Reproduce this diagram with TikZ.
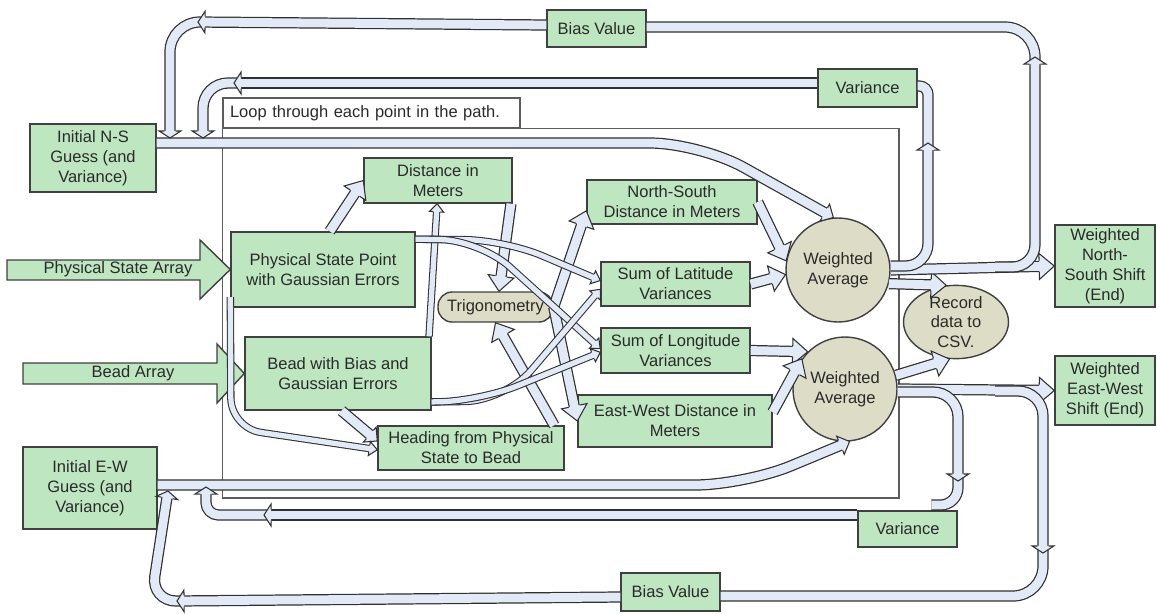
\documentclass[tikz,border=0pt]{standalone}
\usepackage{fontspec}
\setmainfont{Liberation Sans}
\usetikzlibrary{shapes.geometric,decorations.markings,backgrounds}
\definecolor{boxgreen}{HTML}{BEE6C0}
\definecolor{tanfill}{HTML}{DDDCC6}
\definecolor{pipefill}{HTML}{E3EAF7}
\definecolor{pipeedge}{HTML}{303030}
\definecolor{boxline}{HTML}{404040}
\definecolor{framegray}{HTML}{5C5C5C}
\definecolor{ink}{HTML}{2A2A2A}

% block arrow head, drawn in the frame of the path end
\newcommand\tiphead[3]{%
  \fill[pipefill, sharp corners, shorten >=0pt, shorten <=0pt] (0pt,0pt) -- (-#1,#2) -- (-#1,-#2) -- cycle;
  \draw[pipeedge, line width=0.6pt, line join=miter, sharp corners, shorten >=0pt, shorten <=0pt]
    (-#1,#3) -- (-#1,#2) -- (0pt,0pt) -- (-#1,-#2) -- (-#1,-#3);}

\tikzset{
  box/.style={draw=boxline, fill=boxgreen, line width=0.8pt, text=ink, align=center,
    inner sep=1pt, font=\fontsize{9.4}{11.3}\selectfont},
  tanbox/.style={box, fill=tanfill},
  bigarrow/.style={draw=boxline, fill=boxgreen, line width=0.8pt},
  arrowtext/.style={text=ink, font=\fontsize{9.4}{11.3}\selectfont},
  pipe/.style={draw=pipefill, line width=5pt, preaction={draw=pipeedge, line width=6.4pt}},
  thinpipe/.style={draw=pipefill, line width=3pt, preaction={draw=pipeedge, line width=4.2pt}},
  tip/.style n args={4}{shorten >=#4, postaction={decorate, decoration={markings,
    mark=at position 1 with {\tiphead{#1}{#2}{#3}}}}},
  bighead/.style={tip={8.6pt}{7.4pt}{3.2pt}{8pt}},
  medhead/.style={tip={5.6pt}{5.6pt}{3.2pt}{5pt}},
  smallhead/.style={tip={4pt}{6.2pt}{3.2pt}{3.4pt}},
  thinhead/.style={tip={4.6pt}{4pt}{2.1pt}{4pt}},
}

\begin{document}
\begin{tikzpicture}[x=0.02cm, y=-0.02cm]
\useasboundingbox (0,0) rectangle (1157,613);

% guesses and inputs
\node[box, minimum width=2.52cm, minimum height=1.36cm] (nsinit) at (93,158) {Initial N-S\\Guess (and\\Variance)};
\node[box, minimum width=2.68cm, minimum height=1.64cm] (ewinit) at (90,488) {Initial E-W\\Guess (and\\Variance)};
\node[box, draw=framegray, fill=white, line width=0.7pt, minimum height=0.6cm, text width=5.66cm,
  inner xsep=0.14cm, align=left] (looptitle) at (371.5,113) {Loop through each point in the path.};
\node[arrowtext] (psarray) at (118,269.5) {Physical State Array};
\node[arrowtext] (beadarray) at (133,373.5) {Bead Array};

% inside the loop
\node[box, minimum width=3.68cm, minimum height=1.5cm] (phys) at (323,269.5) {Physical State Point\\with Gaussian Errors};
\node[box, minimum width=3.72cm, minimum height=1.46cm] (bead) at (338,373.5) {Bead with Bias and\\Gaussian Errors};
\node[box, minimum width=2.96cm, minimum height=0.9cm] (dist) at (438,180.5) {Distance in\\Meters};
\node[tanbox, rounded corners=8pt, minimum width=2.3cm, minimum height=0.6cm] (trig) at (495.5,307) {Trigonometry};
\node[box, minimum width=3.72cm, minimum height=0.88cm] (heading) at (471,448) {Heading from Physical\\State to Bead};
\node[box, minimum width=3.4cm, minimum height=0.88cm] (nsdist) at (672,202) {North-South\\Distance in Meters};
\node[box, minimum width=2.98cm, minimum height=0.88cm] (sumlat) at (675.5,284) {Sum of Latitude\\Variances};
\node[box, minimum width=2.98cm, minimum height=0.9cm] (sumlon) at (675.5,350.5) {Sum of Longitude\\Variances};
\node[box, minimum width=3.88cm, minimum height=1.04cm] (ewdist) at (675,421) {East-West Distance in\\Meters};
\node[tanbox, circle, inner sep=0pt, minimum size=2.08cm] (wa1) at (838,270) {Weighted\\Average};
\node[tanbox, circle, inner sep=0pt, minimum size=2.08cm] (wa2) at (845,389) {Weighted\\Average};

% outputs
\node[tanbox, ellipse, inner sep=0pt, minimum width=2.1cm, minimum height=1.26cm] (csv) at (956,322) {Record\\data to\\CSV.};
\node[box, minimum width=2cm, minimum height=1.64cm] (nsend) at (1105,266) {Weighted\\North-\\South Shift\\(End)};
\node[box, minimum width=2cm, minimum height=1.38cm] (ewend) at (1105,390.5) {Weighted\\East-West\\Shift (End)};
\node[box, minimum width=1.98cm, minimum height=0.74cm] (biastop) at (596.5,28.5) {Bias Value};
\node[box, minimum width=1.98cm, minimum height=0.76cm] (vartop) at (867.5,88) {Variance};
\node[box, minimum width=1.98cm, minimum height=0.72cm] (varbot) at (907.5,529) {Variance};
\node[box, minimum width=1.98cm, minimum height=0.76cm] (biasbot) at (670.5,592) {Bias Value};

% loop frame and input arrows
\begin{scope}[on background layer]
  \draw[framegray, line width=0.7pt] (looptitle.south west) rectangle (899,498);
  \draw[bigarrow] (7,260) -- (200,260) -- (200,240) -- (phys.west) -- (200,299) -- (200,280) -- (7,280) -- cycle;
  \draw[bigarrow] (23,363) -- (217,363) -- (217,344) -- (bead.west) -- (217,403) -- (217,384) -- (23,384) -- cycle;
\end{scope}

% turning points of the feedback loops
\coordinate (nsjoin) at (995,267);
\coordinate (ewjoin) at (995,391);
\coordinate (biasturn) at (1035,57);
\coordinate (biasend) at (198,22);
\coordinate (nsbias) at (170,138);
\coordinate (varturn) at (928,143);
\coordinate (varend) at (234,83);
\coordinate (nsvar) at (203,138);
\coordinate (varturn2) at (958,481);
\coordinate (varend2) at (264,515);
\coordinate (ewvar) at (206,487);
\coordinate (biasturn2) at (1043,553);
\coordinate (biasend2) at (177,601);
\coordinate (ewbias) at (168,491);

% guesses into the averages
\draw[pipe, medhead, rounded corners=1cm] (nsinit.east |- 0,143) -- (700,143) -- (wa1.95);
\draw[pipe, medhead, rounded corners=1cm] (ewinit.east |- 0,485) -- (745,485) -- (wa2.-85);

% inside the loop
\draw[pipe, bighead] (phys.80) -- (dist.west);
\draw[thinpipe, thinhead] ([xshift=-1.5pt]bead.north east) -- ([xshift=-0.5pt]dist.south);
\draw[pipe, bighead] ([xshift=-1pt]dist.south east) -- ([xshift=2pt]trig.north);
\draw[pipe, bighead] ([xshift=-6pt]heading.north east) -- (trig.south);
\draw[pipe, medhead] ([xshift=2pt]bead.south) -- ([yshift=4pt]heading.west);
\draw[thinpipe, thinhead, rounded corners=0.6cm] ([yshift=6pt]phys.south west) -- (231,428) -- ([yshift=-1pt]heading.west);
\draw[pipe, bighead] (trig.east) -- ([yshift=-5pt]nsdist.west);
\draw[pipe, bighead] (trig.east) -- (ewdist.west);
\draw[thinpipe, thinhead, rounded corners=0.8cm] ([yshift=-4.5pt]phys.north east) -- (505,240) -- ([yshift=2pt]sumlat.west);
\draw[thinpipe, thinhead, rounded corners=0.8cm] ([yshift=-4.5pt]phys.north east) -- (480,240) -- ([yshift=1pt]sumlon.west);
\draw[thinpipe, thinhead, rounded corners=0.8cm] ([yshift=5pt]bead.south east) -- (505,401) -- ([yshift=-3pt]sumlat.west);
\draw[thinpipe, thinhead, rounded corners=0.8cm] ([yshift=5pt]bead.south east) -- (480,401) -- ([yshift=-1pt]sumlon.west);
\draw[pipe, bighead] (nsdist.east) -- (wa1.170);
\draw[pipe, bighead] (sumlat.east) -- (wa1.185);
\draw[pipe, bighead] (sumlon.east) -- (wa2.135);
\draw[pipe, bighead] ([yshift=5pt]ewdist.east) -- (wa2.145);
\draw[pipe, bighead] (wa1.-15) -- (csv.105);
\draw[pipe, bighead] (wa2.15) -- (csv.260);

% results
\draw[pipe, bighead] (wa1.east) -- (nsend.west);
\draw[pipe, bighead] (wa2.east) -- (ewend.west);

% north-south feedback: bias value and variance
\draw[pipe, rounded corners=0.6cm] ([yshift=-3pt]biasturn) |- (biastop.east |- 0,27);
\draw[pipe, smallhead, rounded corners=0.45cm] (nsjoin) -| (biasturn);
\draw[pipe, smallhead, rounded corners=0.6cm] ([xshift=4pt]biasend) -| (nsbias);
\draw[pipe, smallhead] (biastop.west |- 0,25) -- (biasend);
\draw[pipe, rounded corners=5pt] ([yshift=-2pt]varturn) |- (vartop.east |- 0,86);
\draw[pipe, smallhead, rounded corners=0.45cm] (wa1.east |- 0,266) -| (varturn);
\draw[pipe, smallhead, rounded corners=0.5cm] ([xshift=4pt]varend) -| (nsvar);
\draw[pipe, smallhead] (vartop.west |- 0,83) -- (varend);

% east-west feedback: variance and bias value
\draw[pipe, rounded corners=0.35cm] ([yshift=3pt]varturn2) |- ([xshift=-15pt,yshift=3pt]varbot.north east);
\draw[pipe, smallhead, rounded corners=0.5cm] (wa2.east |- 0,392) -| (varturn2);
\draw[pipe, smallhead, rounded corners=0.25cm] ([xshift=4pt]varend2) -| (ewvar);
\draw[pipe, smallhead] (varbot.west |- 0,515) -- (varend2);
\draw[pipe, rounded corners=0.6cm] ([yshift=3pt]biasturn2) |- (biasbot.east |- 0,596);
\draw[pipe, smallhead, rounded corners=0.5cm] (ewjoin) -| (biasturn2);
\draw[pipe, smallhead, rounded corners=0.5cm] ([xshift=4pt]biasend2) -- (151,601) -- (ewbias);
\draw[pipe, smallhead] (biasbot.west |- 0,597) -- (biasend2);
\end{tikzpicture}
\end{document}
